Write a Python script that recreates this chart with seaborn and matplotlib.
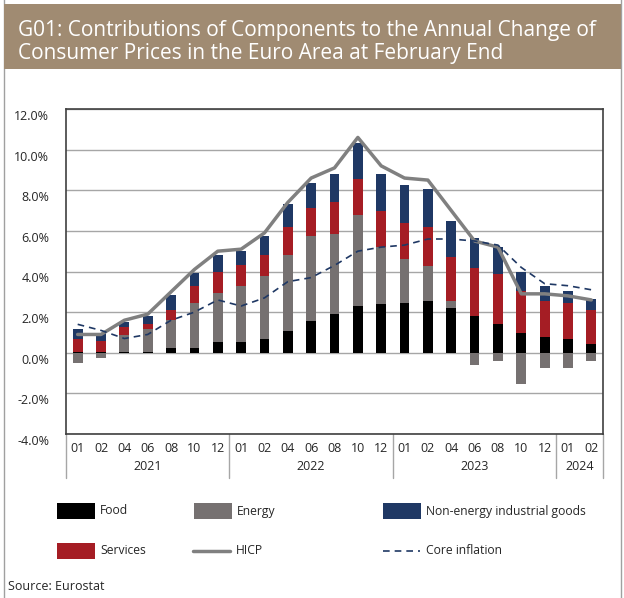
import numpy as np
import pandas as pd
import matplotlib
matplotlib.use("Agg")
import matplotlib.pyplot as plt
import matplotlib.transforms as mtransforms
from matplotlib.patches import Rectangle
from matplotlib.lines import Line2D
import seaborn as sns

sns.set_style("white")
plt.rcParams["font.family"] = ["Open Sans", "DejaVu Sans"]

# ---- data ----
years = ["2021", "2022", "2023", "2024"]
months = ["01", "02", "04", "06", "08", "10", "12",
          "01", "02", "04", "06", "08", "10", "12",
          "01", "02", "04", "06", "08", "10", "12",
          "01", "02"]
year_of = ["2021"] * 7 + ["2022"] * 7 + ["2023"] * 7 + ["2024"] * 2

food = [0.05, 0.04, 0.02, 0.05, 0.23, 0.23, 0.51,
        0.51, 0.70, 1.08, 1.56, 1.90, 2.29, 2.38,
        2.47, 2.57, 2.18, 1.82, 1.44, 0.98, 0.79,
        0.69, 0.41]
energy = [-0.52, -0.25, 0.85, 1.10, 1.38, 2.24, 2.42,
          2.80, 3.09, 3.72, 4.18, 3.93, 4.48, 2.83,
          2.14, 1.69, 0.39, -0.61, -0.41, -1.52, -0.77,
          -0.77, -0.41]
services = [0.64, 0.55, 0.38, 0.29, 0.49, 0.84, 1.04,
            1.03, 1.01, 1.40, 1.41, 1.59, 1.77, 1.76,
            1.78, 1.94, 2.13, 2.34, 2.44, 2.04, 1.78,
            1.78, 1.69]
neig = [0.47, 0.36, 0.27, 0.36, 0.74, 0.64, 0.83,
        0.66, 0.94, 1.13, 1.19, 1.40, 1.79, 1.85,
        1.87, 1.88, 1.79, 1.49, 1.33, 0.95, 0.74,
        0.56, 0.54]
hicp = [0.9, 0.9, 1.6, 1.9, 3.0, 4.1, 5.0,
        5.1, 5.9, 7.4, 8.6, 9.1, 10.6, 9.2,
        8.6, 8.5, 7.0, 5.5, 5.2, 2.9, 2.9,
        2.8, 2.6]
core = [1.4, 1.1, 0.7, 0.9, 1.6, 2.0, 2.6,
        2.3, 2.7, 3.5, 3.7, 4.3, 5.0, 5.2,
        5.3, 5.6, 5.6, 5.5, 5.3, 4.2, 3.4,
        3.3, 3.1]

C_FOOD = "#000000"
C_ENERGY = "#767171"
C_NEIG = "#1f3864"
C_SERV = "#a51d24"
C_HICP = "#808080"
C_CORE = "#1f3864"
C_BAND = "#a08b72"

df = pd.DataFrame({
    "period": [f"{y}-{m}" for y, m in zip(year_of, months)],
    "food": food, "energy": energy, "services": services, "neig": neig,
})
df["energy_pos"] = df["energy"].clip(lower=0)
df["energy_neg"] = df["energy"].clip(upper=0)
df["top_energy"] = df["food"] + df["energy_pos"]
df["top_serv"] = df["top_energy"] + df["services"]
df["top_neig"] = df["top_serv"] + df["neig"]

fig = plt.figure(figsize=(6.24, 5.98), dpi=100)
W, H = 624, 598
ax = fig.add_axes([66 / W, 1 - 434 / H, (603 - 66) / W, (434 - 109) / H])

ax.set_axisbelow(True)
ax.yaxis.grid(True, color="#a6a6a6", lw=1)

bw = 0.42
for col, c in [("top_neig", C_NEIG), ("top_serv", C_SERV),
               ("top_energy", C_ENERGY), ("food", C_FOOD),
               ("energy_neg", C_ENERGY)]:
    sns.barplot(data=df, x="period", y=col, color=c, saturation=1,
                width=bw, linewidth=0, ax=ax, zorder=2)

xs = np.arange(len(months))
sns.lineplot(x=xs, y=hicp, color=C_HICP, lw=2.5, ax=ax, zorder=3)
sns.lineplot(x=xs, y=core, color=C_CORE, lw=1.2, linestyle=(0, (4, 3)),
             ax=ax, zorder=3)

ax.set_xlim(-0.5, len(months) - 0.5)
ax.set_ylim(-4, 12)
ax.set_yticks(np.arange(-4, 13, 2))
ax.set_yticklabels([f"{v:.1f}%" for v in np.arange(-4, 13, 2)], fontsize=9)
ax.tick_params(axis="y", length=0, pad=12)
shift = mtransforms.ScaledTranslation(0, -6 / 100, fig.dpi_scale_trans)
for lab in ax.get_yticklabels():
    lab.set_transform(lab.get_transform() + shift)
ax.set_xticks(xs)
ax.set_xticklabels(months, fontsize=9)
ax.tick_params(axis="x", length=0, pad=6)
ax.set_xlabel("")
ax.set_ylabel("")
for s in ax.spines.values():
    s.set_color("#404040")
    s.set_linewidth(1.2)

# year separators and labels
trans = ax.get_xaxis_transform()
for b in [-0.5, 6.5, 13.5, 20.5, 22.5]:
    ax.plot([b, b], [0, -0.135], transform=trans, color="#a6a6a6",
            lw=1, clip_on=False)
idx = np.arange(len(months))
for y in years:
    pos = idx[np.array(year_of) == y]
    ax.text(pos.mean(), -0.1, y, transform=trans, ha="center", va="center",
            fontsize=9)

# frame and title band
fig.add_artist(Rectangle((4 / W, -0.01), (621 - 4) / W, 1.02, transform=fig.transFigure,
                         fill=False, edgecolor="#a0a0a0", lw=1))
fig.add_artist(Rectangle((4 / W, 1 - 69 / H), (621 - 4) / W, 65 / H,
                         transform=fig.transFigure, facecolor=C_BAND,
                         edgecolor="none"))
fig.text(18 / W, 1 - 42 / H,
         "G01: Contributions of Components to the Annual Change of\n"
         "Consumer Prices in the Euro Area at February End",
         color="white", fontsize=15, ha="left", va="center", linespacing=1.12)

# legend
def legend_patch(x, y, color, label):
    fig.add_artist(Rectangle((x / W, 1 - (y + 8) / H), 38 / W, 16 / H,
                             transform=fig.transFigure, facecolor=color,
                             edgecolor="none"))
    fig.text((x + 43) / W, 1 - y / H, label, fontsize=8.7, va="center")

def legend_line(x, y, color, label, lw, ls):
    fig.add_artist(Line2D([x / W, (x + 37) / W], [1 - y / H, 1 - y / H],
                          transform=fig.transFigure, color=color, lw=lw, ls=ls))
    fig.text((x + 43) / W, 1 - y / H, label, fontsize=8.7, va="center")

legend_patch(57, 511, C_FOOD, "Food")
legend_patch(194, 511, C_ENERGY, "Energy")
legend_patch(383, 511, C_NEIG, "Non-energy industrial goods")
legend_patch(57, 551, C_SERV, "Services")
legend_line(193, 551, C_HICP, "HICP", 2.5, "-")
legend_line(383, 551, C_CORE, "Core inflation", 1.2, (0, (4, 3)))

fig.text(8 / W, 1 - 587 / H, "Source: Eurostat", fontsize=9, va="center")

fig.savefig("out.png", dpi=100)
